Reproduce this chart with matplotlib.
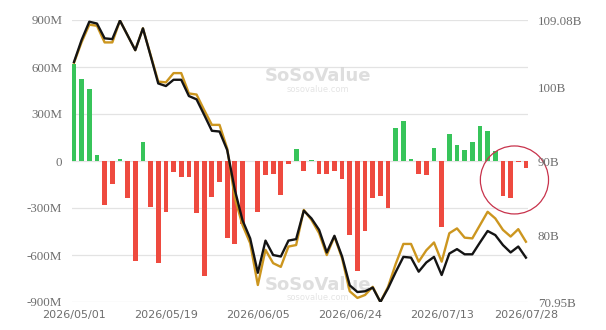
import matplotlib
matplotlib.use("Agg")
import matplotlib.pyplot as plt
from matplotlib.patches import Ellipse
import numpy as np
import pandas as pd

# trading days 2026/05/01 - 2026/07/28 (US market holidays skipped)
holidays = ["2026-05-25", "2026-06-19", "2026-07-03"]
days = pd.date_range("2026-05-01", "2026-07-28",
                     freq=pd.offsets.CustomBusinessDay(holidays=holidays))

# daily net inflow, millions USD
net_inflow = [617, 522, 458, 36, -281, -148, 15, -237, -638, 120,
              -292, -651, -327, -72, -104, -104, -332, -735, -232, -131,
              -490, -527, -399, 0, -328, -90, -82, -218, -22, 78,
              -62, 5, -80, -85, -65, -112, -474, -702, -448, -234,
              -223, -298, 211, 257, 15, -80, -90, 82, -423, 173,
              104, 68, 121, 222, 194, 61, -222, -239, -8, -45]

# total net assets, billions USD (black)
net_assets = [103.4, 106.4, 108.85, 108.6, 106.6, 106.5, 109.0, 107.0, 105.0, 107.95,
              104.25, 100.5, 100.15, 101.0, 101.0, 98.8, 98.35, 96.25, 94.1, 94.0,
              91.5, 86.1, 82.0, 79.55, 74.9, 79.25, 77.3, 77.1, 79.25, 79.45,
              83.3, 82.25, 80.7, 77.65, 79.9, 77.1, 73.2, 72.3, 72.4, 72.9,
              70.95, 72.8, 75.0, 77.05, 76.95, 75.05, 76.3, 77.05, 74.6, 77.5,
              78.1, 77.4, 77.4, 79.0, 80.55, 80.0, 78.65, 77.65, 78.45, 76.95]

# second asset series, billions USD (gold)
asset_b = [103.3, 106.1, 108.45, 108.3, 106.05, 106.05, 109.0, 107.0, 105.0, 107.95,
           104.35, 100.75, 100.65, 101.9, 101.9, 99.15, 99.0, 96.9, 94.9, 94.9,
           91.7, 85.0, 81.35, 78.9, 73.25, 78.0, 76.2, 75.7, 78.45, 78.65,
           83.4, 82.05, 80.25, 77.3, 79.8, 76.85, 72.4, 71.5, 71.9, 73.0,
           70.95, 73.0, 76.1, 78.8, 78.8, 76.4, 77.95, 79.0, 76.4, 80.25,
           80.9, 79.65, 79.55, 81.35, 83.15, 82.25, 80.7, 79.8, 80.8, 79.1]

left_ticks = [-900, -600, -300, 0, 300, 600, 900]
left_labels = ["-900M", "-600M", "-300M", "0", "300M", "600M", "900M"]
right_ticks = [70.95, 80, 90, 100, 109.08]
right_labels = ["70.95B", "80B", "90B", "100B", "109.08B"]
date_ticks = [0, 12, 24, 36, 48, 59]

green = "#37c45a"
red = "#ee4a3f"
grey_text = "#6e6e6e"

fig = plt.figure(figsize=(6.06, 3.30), dpi=100)
ax = fig.add_axes([72 / 606, 1 - 302 / 330, 456 / 606, 282 / 330])
ax2 = ax.twinx()

x = np.arange(len(days))
colors = [green if v >= 0 else red for v in net_inflow]
ax.bar(x, net_inflow, width=0.62, color=colors, zorder=2)

ax.set_xlim(-0.26, 59.27)
ax.set_ylim(-900, 900)
ax.set_yticks(left_ticks)
ax.set_yticklabels(left_labels, family="Liberation Serif", fontsize=9.4, color=grey_text)
ax.grid(axis="y", color="#e3e3e3", linewidth=0.9, zorder=0)
ax.set_axisbelow(True)
ax.set_xticks(date_ticks)
ax.set_xticklabels([days[i].strftime("%Y/%m/%d") for i in date_ticks],
                   family="DejaVu Sans", fontsize=8, color=grey_text)
ax.tick_params(axis="both", length=0)
ax.tick_params(axis="y", pad=7)
ax.tick_params(axis="x", pad=6)

ax2.plot(x, asset_b, color="#cc961f", linewidth=1.7, zorder=3)
ax2.plot(x, net_assets, color="#141414", linewidth=1.7, zorder=4)
ax2.set_ylim(70.95, 109.08)
ax2.set_yticks(right_ticks)
ax2.set_yticklabels(right_labels, family="Liberation Serif", fontsize=9.4, color=grey_text)
ax2.tick_params(axis="y", length=0, pad=7)

for a in (ax, ax2):
    for s in a.spines.values():
        s.set_visible(False)

# watermarks
for wx, wy in [(0.54, 0.80), (0.54, 0.06)]:
    ax.text(wx, wy, "SoSoValue", transform=ax.transAxes, fontsize=13, fontweight="bold",
            color="#d6d6d6", alpha=0.8, ha="center", va="center", zorder=1)
    ax.text(wx, wy - 0.045, "sosovalue.com", transform=ax.transAxes, fontsize=6,
            color="#dedede", alpha=0.8, ha="center", va="center", zorder=1)

# red highlight circle
ax.add_patch(Ellipse((57.5, -121), 8.9, 434, fill=False, edgecolor="#c8334c",
                     linewidth=0.9, clip_on=False, zorder=5))

fig.savefig("out.png", dpi=100)
